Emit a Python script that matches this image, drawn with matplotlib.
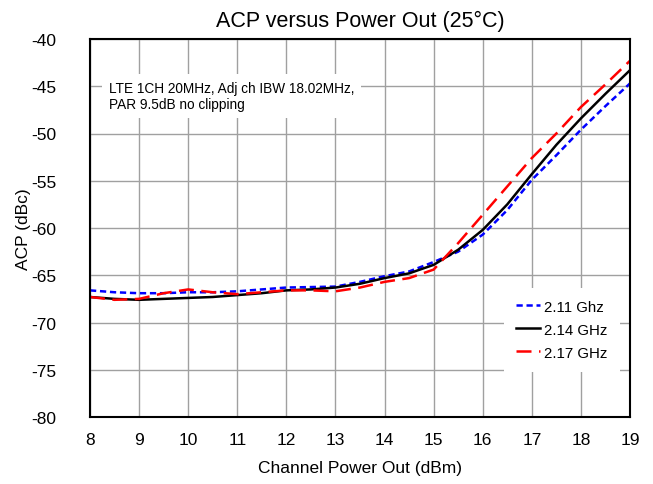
import matplotlib.pyplot as plt

plt.rcParams["font.family"] = ["Liberation Sans", "DejaVu Sans"]
plt.rcParams["axes.unicode_minus"] = False

power_out = [8, 8.5, 9, 9.5, 10, 10.5, 11, 11.5, 12, 12.5, 13, 13.5, 14, 14.5,
             15, 15.5, 16, 16.5, 17, 17.5, 18, 18.5, 19]
acp_211 = [-66.6, -66.8, -66.9, -66.9, -66.8, -66.8, -66.7, -66.5, -66.3, -66.25, -66.2, -65.7,
           -65.1, -64.6, -63.6, -62.5, -60.7, -58.1, -54.9, -52.3, -49.6, -47.1, -44.7]
acp_214 = [-67.3, -67.5, -67.6, -67.5, -67.4, -67.3, -67.1, -66.9, -66.6, -66.5, -66.3, -65.9,
           -65.3, -64.8, -63.9, -62.3, -60.2, -57.5, -54.3, -51.2, -48.4, -45.8, -43.3]
acp_217 = [-67.3, -67.6, -67.5, -66.9, -66.5, -66.8, -67.0, -66.8, -66.6, -66.6, -66.7, -66.3,
           -65.7, -65.3, -64.4, -61.6, -58.6, -55.6, -52.6, -50.0, -47.2, -44.8, -42.3]
labels = ["2.11 Ghz", "2.14 GHz", "2.17 GHz"]

fig = plt.figure(figsize=(6.53, 4.85), dpi=100)
ax = fig.add_axes([90 / 653, 1 - 418 / 485, 540 / 653, 378 / 485])

ax.plot(power_out, acp_211, color="#0000ff", lw=1.8, linestyle=(0, (2.5, 1.5)), label=labels[0])
ax.plot(power_out, acp_214, color="black", lw=1.8, label=labels[1])
ax.plot(power_out, acp_217, color="#ff0000", lw=1.8, linestyle=(0, (6, 3)), label=labels[2])

ax.set_xlim(8, 19)
ax.set_ylim(-80, -40)
ax.set_xticks(range(8, 20))
ax.set_yticks(range(-80, -39, 5))
ax.grid(True, color="#a0a0a0", lw=1)
ax.tick_params(axis="x", labelsize=12.5, length=0, pad=11)
ax.tick_params(axis="y", labelsize=12.5, length=0, pad=24)
for s in ax.spines.values():
    s.set_linewidth(1.5)
    s.set_color("black")

ax.set_title("ACP versus Power Out (25°C)", fontsize=15.5, pad=9)
ax.set_xlabel("Channel Power Out (dBm)", fontsize=12.5, labelpad=9)
ax.set_ylabel("ACP (dBc)", fontsize=12.5, labelpad=0)

ax.text(0.035, 0.89, "LTE 1CH 20MHz, Adj ch IBW 18.02MHz,\nPAR 9.5dB no clipping",
        transform=ax.transAxes, fontsize=9.8, va="top", ha="left", linespacing=1.25,
        bbox=dict(facecolor="white", edgecolor="none", pad=5), zorder=5)

leg = ax.legend(loc="lower right", bbox_to_anchor=(0.995, 0.1), fontsize=10.8,
                frameon=True, fancybox=False, handlelength=1.6, handletextpad=0.3,
                labelspacing=0.6, borderpad=0.8)
leg.get_frame().set_edgecolor("none")
leg.get_frame().set_alpha(1)

fig.savefig("out.png", dpi=100)
